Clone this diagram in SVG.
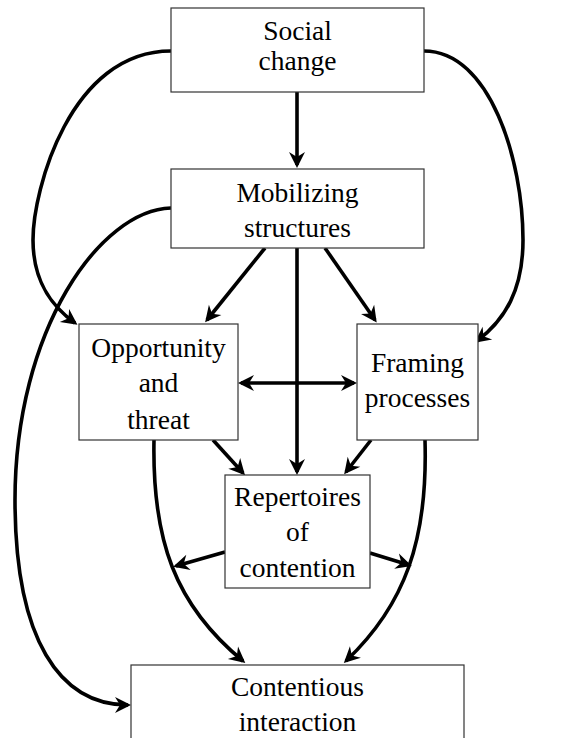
<svg xmlns="http://www.w3.org/2000/svg" width="587" height="738" viewBox="0 0 587 738">
<defs>
<marker id="ah" viewBox="-16 -10 20 20" refX="0" refY="0" markerWidth="20" markerHeight="20" markerUnits="userSpaceOnUse" orient="auto-start-reverse">
<path d="M3,0 L-13,-8 L-8,0 L-13,8 Z" fill="#000"/>
</marker>
</defs>
<rect width="587" height="738" fill="#fff"/>
<g id="connectors" fill="none" stroke="#000" stroke-width="3.6" marker-end="url(#ah)">
<path d="M297,92 L297,165"/>
<path d="M171,51 C70,51 33,190 33,240 C33,280 50,305 75,323"/>
<path d="M424,51 C490,51 523,160 523,240 C523,290 505,320 477,341"/>
<path d="M171,208 C100,210 15,330 15,500 C15,640 60,705 128,705"/>
<path d="M265,248 L207,320"/>
<path d="M325,248 L375,320"/>
<path d="M297,248 L297,472"/>
<path marker-start="url(#ah)" d="M241,383 L354,383"/>
<path d="M213,440 L243,473"/>
<path d="M371,440 L346,472"/>
<path d="M154,440 C152,540 175,605 243,661"/>
<path d="M425,440 C428,540 405,605 346,661"/>
<path d="M225,552 L176,566"/>
<path d="M370,553 L409,565"/>
</g>
<g id="social-change">
<rect x="171" y="8" width="253" height="84" fill="#fff" stroke="#333" stroke-width="1.2"/>
<text x="297.5" y="40" style="font-family:'Liberation Serif',serif;font-size:27.5px;text-anchor:middle">Social</text>
<text x="297.5" y="70" style="font-family:'Liberation Serif',serif;font-size:27.5px;text-anchor:middle">change</text>
</g>
<g id="mobilizing-structures">
<rect x="171" y="169" width="253" height="79" fill="#fff" stroke="#333" stroke-width="1.2"/>
<text x="297.5" y="202" style="font-family:'Liberation Serif',serif;font-size:27.5px;text-anchor:middle">Mobilizing</text>
<text x="297.5" y="237" style="font-family:'Liberation Serif',serif;font-size:27.5px;text-anchor:middle">structures</text>
</g>
<g id="opportunity-threat">
<rect x="79" y="324" width="159" height="116" fill="#fff" stroke="#333" stroke-width="1.2"/>
<text x="158.5" y="357" style="font-family:'Liberation Serif',serif;font-size:27.5px;text-anchor:middle">Opportunity</text>
<text x="158.5" y="392" style="font-family:'Liberation Serif',serif;font-size:27.5px;text-anchor:middle">and</text>
<text x="158.5" y="429" style="font-family:'Liberation Serif',serif;font-size:27.5px;text-anchor:middle">threat</text>
</g>
<g id="framing-processes">
<rect x="357" y="324" width="121" height="116" fill="#fff" stroke="#333" stroke-width="1.2"/>
<text x="417.5" y="372" style="font-family:'Liberation Serif',serif;font-size:27.5px;text-anchor:middle">Framing</text>
<text x="417.5" y="407" style="font-family:'Liberation Serif',serif;font-size:27.5px;text-anchor:middle">processes</text>
</g>
<g id="repertoires">
<rect x="225" y="475" width="145" height="113" fill="#fff" stroke="#333" stroke-width="1.2"/>
<text x="297.5" y="506" style="font-family:'Liberation Serif',serif;font-size:27.5px;text-anchor:middle">Repertoires</text>
<text x="297.5" y="541" style="font-family:'Liberation Serif',serif;font-size:27.5px;text-anchor:middle">of</text>
<text x="297.5" y="577" style="font-family:'Liberation Serif',serif;font-size:27.5px;text-anchor:middle">contention</text>
</g>
<g id="contentious-interaction">
<rect x="131" y="665" width="333" height="90" fill="#fff" stroke="#333" stroke-width="1.2"/>
<text x="297.5" y="696" style="font-family:'Liberation Serif',serif;font-size:27.5px;text-anchor:middle">Contentious</text>
<text x="297.5" y="731" style="font-family:'Liberation Serif',serif;font-size:27.5px;text-anchor:middle">interaction</text>
</g>
</svg>
